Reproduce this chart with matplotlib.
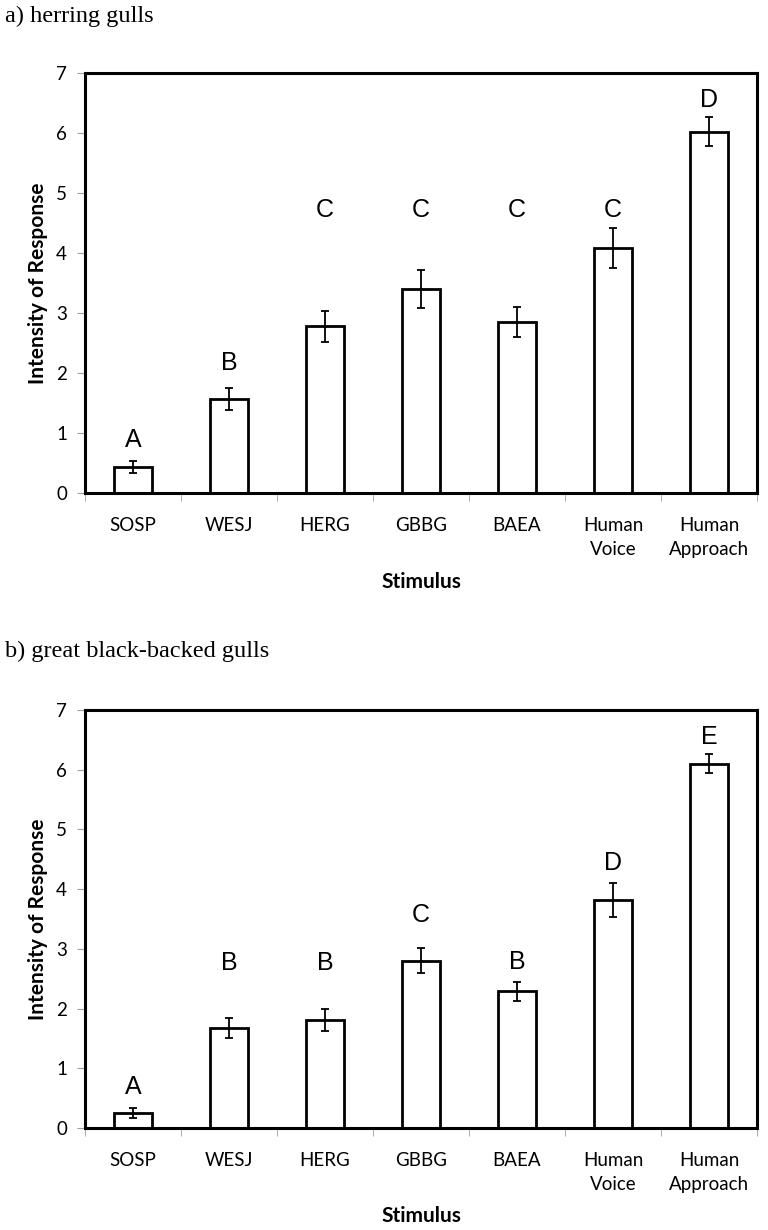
import numpy as np
import matplotlib
matplotlib.use('Agg')
import matplotlib.pyplot as plt

stimuli = ['SOSP', 'WESJ', 'HERG', 'GBBG', 'BAEA', 'Human\nVoice', 'Human\nApproach']

# herring gulls
hergMeans = [0.43, 1.57, 2.78, 3.40, 2.85, 4.08, 6.02]
hergErr = [0.10, 0.18, 0.26, 0.32, 0.25, 0.33, 0.24]
hergLetters = ['A', 'B', 'C', 'C', 'C', 'C', 'D']
hergLetterY = [0.88, 2.17, 4.72, 4.72, 4.72, 4.72, 6.55]

# great black-backed gulls
gbbgMeans = [0.25, 1.68, 1.81, 2.80, 2.29, 3.82, 6.10]
gbbgErr = [0.08, 0.17, 0.18, 0.21, 0.16, 0.28, 0.16]
gbbgLetters = ['A', 'B', 'B', 'C', 'B', 'D', 'E']
gbbgLetterY = [0.69, 2.76, 2.76, 3.57, 2.78, 4.44, 6.55]

W, H = 768, 1230
fig = plt.figure(figsize=(W / 100, H / 100), dpi=100)

panels = [
    ('a) herring gulls', hergMeans, hergErr, hergLetters, hergLetterY, 73, 493, 16),
    ('b) great black-backed gulls', gbbgMeans, gbbgErr, gbbgLetters, gbbgLetterY, 710, 1128, 651),
]

x = np.arange(len(stimuli))
for title, means, errs, letters, letterY, top, bottom, titleY in panels:
    ax = fig.add_axes([85 / W, 1 - bottom / H, (757 - 85) / W, (bottom - top) / H])
    ax.bar(x, means, width=0.4, color='white', edgecolor='black', linewidth=2.0, zorder=2)
    ax.errorbar(x, means, yerr=errs, fmt='none', ecolor='black', elinewidth=1.3,
                capsize=3, capthick=1.3, zorder=3)
    for i in range(len(x)):
        ax.text(x[i], letterY[i], letters[i], ha='center', va='center',
                fontsize=18, family='Liberation Sans')

    ax.set_xlim(-0.5, len(stimuli) - 0.5)
    ax.set_ylim(0, 7)
    ax.set_yticks(range(0, 8))
    ax.set_xticks(x)
    ax.set_xticklabels(stimuli, family='Lato', fontsize=13.5, linespacing=1.5)
    ax.set_xticks(np.arange(-0.5, len(stimuli), 1), minor=True)
    ax.tick_params(axis='x', which='major', length=0, pad=17)
    ax.tick_params(axis='x', which='minor', length=6, color='#a0a0a0', direction='out')
    ax.tick_params(axis='y', length=6, color='#a0a0a0', direction='out', pad=7, labelsize=13.5)
    for lab in ax.get_yticklabels():
        lab.set_family('Lato')
    for s in ax.spines.values():
        s.set_linewidth(2.2)
        s.set_color('black')

    ax.set_ylabel('Intensity of Response', family='Lato', fontweight='bold', fontsize=15, labelpad=6)
    ax.set_xlabel('Stimulus', family='Lato', fontweight='bold', fontsize=15, labelpad=10)

    fig.text(5 / W, 1 - titleY / H, title, ha='left', va='center',
             family='Liberation Serif', fontsize=17.5)

plt.savefig('out.png', dpi=100)
